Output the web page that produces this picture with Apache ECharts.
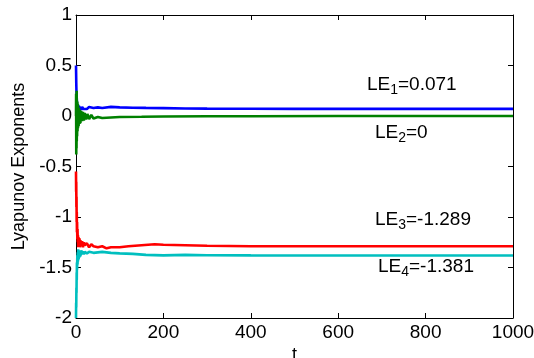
<!DOCTYPE html>
<html>
<head>
<meta charset="utf-8">
<script src="https://cdn.jsdelivr.net/npm/echarts@6/dist/echarts.min.js"></script>
<style>
  html, body { margin: 0; padding: 0; background: #fff; }
  #chart { width: 534px; height: 358px; }
</style>
</head>
<body>
<div id="chart"></div>
<script>
// Lyapunov exponent estimates versus time t
const t1 = [0,0.3,0.6,1,1.5,2,2.5,3,4,5,6,7,8,10,12,14,17,20,25,30,40,50,60,80,100,130,160,200,250,300,400,500,600,700,800,900,1000];
const le1 = [0.50,0.42,0.33,0.25,0.20,0.15,0.12,0.10,0.07,0.11,0.06,0.10,0.07,0.09,0.06,0.09,0.07,0.085,0.07,0.09,0.08,0.085,0.08,0.09,0.085,0.082,0.08,0.078,0.075,0.073,0.072,0.071,0.071,0.071,0.071,0.071,0.071];

const t2 = [0,0.3,0.6,0.9,1.2,1.5,1.8,2.1,2.5,3,3.5,4,4.5,5,6,7,8,9,10,12,14,16,18,20,23,26,30,35,40,50,60,80,100,150,200,300,400,600,800,1000];
const le2 = [0.0,0.22,-0.38,0.18,-0.32,0.25,-0.25,0.15,-0.2,0.14,-0.15,0.12,-0.12,0.1,-0.1,0.08,-0.08,0.06,-0.07,0.05,-0.05,0.04,-0.045,0.03,-0.035,0.02,-0.03,0.01,-0.025,-0.01,-0.02,-0.015,-0.01,-0.008,-0.005,-0.003,-0.002,0,0,0];

const t3 = [0,0.3,0.6,0.9,1.2,1.5,1.8,2.1,2.5,3,3.5,4,4.5,5,6,7,8,9,10,12,14,16,18,20,25,30,35,40,50,60,70,80,100,120,150,180,200,250,300,400,500,600,800,1000];
const le3 = [-0.55,-0.75,-0.65,-0.9,-0.8,-1.05,-0.95,-1.15,-1.05,-1.22,-1.12,-1.25,-1.18,-1.3,-1.2,-1.28,-1.21,-1.3,-1.23,-1.29,-1.24,-1.3,-1.25,-1.28,-1.26,-1.3,-1.27,-1.29,-1.3,-1.29,-1.31,-1.3,-1.3,-1.29,-1.28,-1.27,-1.275,-1.28,-1.285,-1.29,-1.289,-1.289,-1.289,-1.289];

const t4 = [0,0.3,0.6,0.9,1.2,1.5,1.8,2.1,2.5,3,3.5,4,4.5,5,6,7,8,9,10,12,14,16,18,20,25,30,40,50,60,80,100,130,160,200,250,300,400,500,600,800,1000];
const le4 = [-2.0,-1.85,-1.9,-1.7,-1.75,-1.55,-1.62,-1.45,-1.52,-1.38,-1.47,-1.35,-1.44,-1.32,-1.42,-1.33,-1.4,-1.34,-1.39,-1.33,-1.37,-1.34,-1.37,-1.345,-1.36,-1.345,-1.355,-1.35,-1.345,-1.355,-1.36,-1.365,-1.375,-1.38,-1.375,-1.378,-1.38,-1.381,-1.381,-1.381,-1.381];

const xTicks = [0, 200, 400, 600, 800, 1000];
const yTicks = [-2, -1.5, -1, -0.5, 0, 0.5, 1];
const lineColors = ['#0000ff', '#008000', '#ff0000', '#00bfbf'];
const labelAt = [[367, 88], [375, 136], [375, 223], [378, 270]];

const FONT = 'Liberation Sans, Arial, sans-serif';
const pair = (ts, vs) => ts.map((t, i) => [t, vs[i]]);
const allT = [t1, t2, t3, t4];
const allV = [le1, le2, le3, le4];

const axisCommon = {
  type: 'value',
  axisLine: { show: true, onZero: false, lineStyle: { color: '#000', width: 1 } },
  axisTick: { show: true, inside: true, length: 5, lineStyle: { color: '#000' } },
  splitLine: { show: false }
};

const chart = echarts.init(document.getElementById('chart'));
chart.setOption({
  animation: false,
  backgroundColor: '#fff',
  grid: { left: 76, right: 21, top: 15, bottom: 40, containLabel: false, outerBoundsMode: 'none' },
  xAxis: [
    Object.assign({}, axisCommon, {
      min: xTicks[0], max: xTicks[xTicks.length - 1], interval: 200,
      position: 'bottom',
      axisLabel: { color: '#000', fontSize: 19, fontFamily: FONT, margin: 5, formatter: v => String(v) },
      name: 't', nameLocation: 'middle', nameGap: 28, nameMoveOverlap: false,
      nameTextStyle: { color: '#000', fontSize: 18, fontFamily: FONT }
    }),
    Object.assign({}, axisCommon, {
      min: xTicks[0], max: xTicks[xTicks.length - 1], interval: 200,
      position: 'top', axisLabel: { show: false }
    })
  ],
  yAxis: [
    Object.assign({}, axisCommon, {
      min: yTicks[0], max: yTicks[yTicks.length - 1], interval: 0.5,
      position: 'left',
      axisLabel: { color: '#000', fontSize: 19, fontFamily: FONT, margin: 4, formatter: v => String(v) },
      name: 'Lyapunov Exponents', nameLocation: 'middle', nameGap: 48, nameMoveOverlap: false,
      nameTextStyle: { color: '#000', fontSize: 18, fontFamily: FONT }
    }),
    Object.assign({}, axisCommon, {
      min: yTicks[0], max: yTicks[yTicks.length - 1], interval: 0.5,
      position: 'right', axisLabel: { show: false }
    })
  ],
  series: allT.map((ts, k) => ({
    type: 'line',
    xAxisIndex: 0, yAxisIndex: 0,
    data: pair(ts, allV[k]),
    showSymbol: false,
    symbol: 'none',
    lineStyle: { color: lineColors[k], width: 2.6 },
    z: 2 + k
  })),
  graphic: allV.map((vs, k) => {
    const last = vs[vs.length - 1];
    return {
      type: 'text',
      left: labelAt[k][0],
      top: labelAt[k][1] - 13,
      z: 20,
      style: {
        text: '{n|LE}{s|' + (k + 1) + '}{n|=' + String(last) + '}',
        rich: {
          n: { fontSize: 19, fontFamily: FONT, fill: '#000' },
          s: { fontSize: 14, fontFamily: FONT, fill: '#000', padding: [12, 0, 0, 0] }
        }
      }
    };
  })
});
</script>
</body>
</html>
